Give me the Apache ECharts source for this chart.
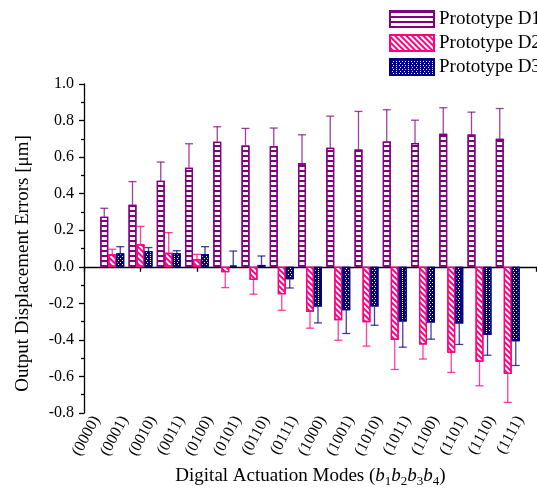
<!DOCTYPE html>
<html>
<head>
<meta charset="utf-8">
<script src="https://cdn.jsdelivr.net/npm/echarts@6/dist/echarts.min.js"></script>
<style>
html,body{margin:0;padding:0;background:#fff;}
#c{width:537px;height:491px;}
</style>
</head>
<body>
<div id="c"></div>
<script>
const categories = ['(0000)','(0001)','(0010)','(0011)','(0100)','(0101)','(0110)','(0111)','(1000)','(1001)','(1010)','(1011)','(1100)','(1101)','(1110)','(1111)'];
const seriesNames = ['Prototype D1','Prototype D2','Prototype D3'];
const d1 = [0.274,0.34,0.471,0.542,0.684,0.664,0.66,0.566,0.651,0.642,0.686,0.677,0.728,0.724,0.70];
const d1Err = [0.046,0.126,0.102,0.131,0.082,0.093,0.099,0.156,0.173,0.208,0.173,0.125,0.142,0.122,0.166];
const d2 = [0.068,0.123,0.077,0.041,-0.03,-0.072,-0.15,-0.247,-0.292,-0.303,-0.40,-0.425,-0.471,-0.52,-0.587];
const d2Err = [0.028,0.098,0.11,0.027,0.084,0.078,0.088,0.089,0.11,0.131,0.162,0.08,0.107,0.131,0.155];
const d3 = [0.074,0.086,0.074,0.068,0.007,0.01,-0.068,-0.218,-0.238,-0.218,-0.30,-0.305,-0.31,-0.373,-0.407];
const d3Err = [0.036,0.019,0.014,0.042,0.079,0.049,0.048,0.089,0.127,0.102,0.14,0.091,0.115,0.111,0.133];
const yTicks = [-0.8,-0.6,-0.4,-0.2,0.0,0.2,0.4,0.6,0.8,1.0];

const FONT = 'Liberation Serif';
const colors = ['#800080','#ff0080','#000080'];
const BW = 8;
const axisCats = [''].concat(categories);

const values = [d1,d2,d3];
const errs = [d1Err,d2Err,d3Err];

const decals = [
  {symbol:'rect', color:'#800080', dashArrayX:[1,0], dashArrayY:[1.2,2.1], symbolSize:1, rotation:0},
  {symbol:'rect', color:'#ff0080', dashArrayX:[1,0], dashArrayY:[1.2,2.0], symbolSize:1, rotation:Math.PI/4},
  {symbol:'rect', color:'#ffffff', dashArrayX:[[1,2],[0,1.5,1,0.5]], dashArrayY:[1,0.6], symbolSize:1, rotation:0}
];
const fills = ['#ffffff','#ffffff','#000080'];

const series = [];
values.forEach((vals, s) => {
  series.push({
    name: seriesNames[s],
    type: 'bar',
    xAxisIndex: 0, yAxisIndex: 0,
    barWidth: BW,
    barGap: '0%',
    data: vals.map((v, i) => [i + 1, v]),
    itemStyle: {color: fills[s], borderColor: colors[s], borderWidth: 1.3, decal: decals[s]},
    emphasis: {disabled: true},
    z: 2
  });
});
values.forEach((vals, s) => {
  series.push({
    type: 'custom',
    xAxisIndex: 0, yAxisIndex: 0,
    data: vals.map((v, i) => [i + 1, v, v >= 0 ? v + errs[s][i] : v - errs[s][i]]),
    renderItem: function (params, api) {
      const p0 = api.coord([api.value(0), api.value(1)]);
      const p1 = api.coord([api.value(0), api.value(2)]);
      const x = p0[0] + (s - 1) * BW;
      const st = {stroke: colors[s], lineWidth: 1.3, opacity: 0.75};
      return {
        type: 'group',
        children: [
          {type: 'line', shape: {x1: x, y1: p0[1], x2: x, y2: p1[1]}, style: st},
          {type: 'line', shape: {x1: x - BW / 2, y1: p1[1], x2: x + BW / 2, y2: p1[1]}, style: st}
        ]
      };
    },
    silent: true,
    z: 3
  });
});

// x-axis title with italic b and subscripts, laid out piece by piece
const titleFontSize = 19, subFontSize = 13;
const titlePieces = [
  {t: 'Digital Actuation Modes (', style: 'normal', sub: false}
];
['1','2','3','4'].forEach(d => {
  titlePieces.push({t: 'b', style: 'italic', sub: false});
  titlePieces.push({t: d, style: 'normal', sub: true});
});
titlePieces.push({t: ')', style: 'normal', sub: false});
const mctx = document.createElement('canvas').getContext('2d');
let totalW = 0;
titlePieces.forEach(p => {
  const fs = p.sub ? subFontSize : titleFontSize;
  mctx.font = p.style + ' ' + fs + 'px "' + FONT + '"';
  p.w = mctx.measureText(p.t).width;
  totalW += p.w;
});
const titleCenterX = 310.5, titleBaseline = 482;
let cx = titleCenterX - totalW / 2;
const titleGraphics = titlePieces.map(p => {
  const fs = p.sub ? subFontSize : titleFontSize;
  const base = titleBaseline + (p.sub ? 4 : 0);
  const g = {
    type: 'text', x: cx, y: base - 0.34 * fs,
    style: {text: p.t, fontFamily: FONT, fontSize: fs, fontStyle: p.style,
            fill: '#000', align: 'left', verticalAlign: 'middle'}
  };
  cx += p.w;
  return g;
});

const chart = echarts.init(document.getElementById('c'), null, {renderer: 'canvas'});
chart.setOption({
  animation: false,
  backgroundColor: '#fff',
  textStyle: {fontFamily: FONT},
  legend: {
    data: seriesNames,
    orient: 'vertical',
    left: 389, top: 9,
    padding: 0,
    itemWidth: 44, itemHeight: 16,
    itemGap: 4,
    icon: 'rect',
    textStyle: {fontFamily: FONT, fontSize: 19, lineHeight: 20, color: '#000'}
  },
  grid: [
    {left: 84, right: 1, top: 84, bottom: 78},
    {left: 68, right: 17, top: 84, bottom: 78}
  ],
  xAxis: [
    {
      type: 'category', gridIndex: 0, data: axisCats, boundaryGap: false,
      axisLine: {onZero: true, lineStyle: {color: '#000', width: 1.3}},
      axisTick: {show: true, inside: false, length: 5, lineStyle: {color: '#000', width: 1.3}},
      axisLabel: {show: false},
      splitLine: {show: false}
    },
    {
      type: 'category', gridIndex: 1, data: axisCats, boundaryGap: false,
      position: 'bottom',
      axisLine: {show: false, onZero: false},
      axisTick: {show: false},
      axisLabel: {show: true, interval: 0, rotate: 62, margin: 4, fontFamily: FONT, fontSize: 16, color: '#000'},
      splitLine: {show: false}
    }
  ],
  yAxis: [
    {
      type: 'value', gridIndex: 0, min: -0.8, max: 1.0, interval: 0.2,
      name: 'Output Displacement Errors [\u03bcm]',
      nameLocation: 'middle', nameGap: 51,
      nameTextStyle: {fontFamily: FONT, fontSize: 19, color: '#000', padding: [0, 30, 0, 0]},
      axisLine: {show: true, lineStyle: {color: '#000', width: 1.3}},
      axisTick: {show: true, inside: false, length: 5, lineStyle: {color: '#000', width: 1.3}},
      minorTick: {show: true, splitNumber: 2, length: 3, lineStyle: {color: '#000', width: 1.3}},
      axisLabel: {margin: 10, fontFamily: FONT, fontSize: 16, color: '#000', formatter: v => {
        const t = yTicks.find(k => Math.abs(k - v) < 1e-6);
        return (t === undefined ? v : t).toFixed(1);
      }},
      splitLine: {show: false}
    },
    {
      type: 'value', gridIndex: 1, min: -0.8, max: 1.0, show: false
    }
  ],
  graphic: titleGraphics,
  series: series
});
</script>
</body>
</html>
